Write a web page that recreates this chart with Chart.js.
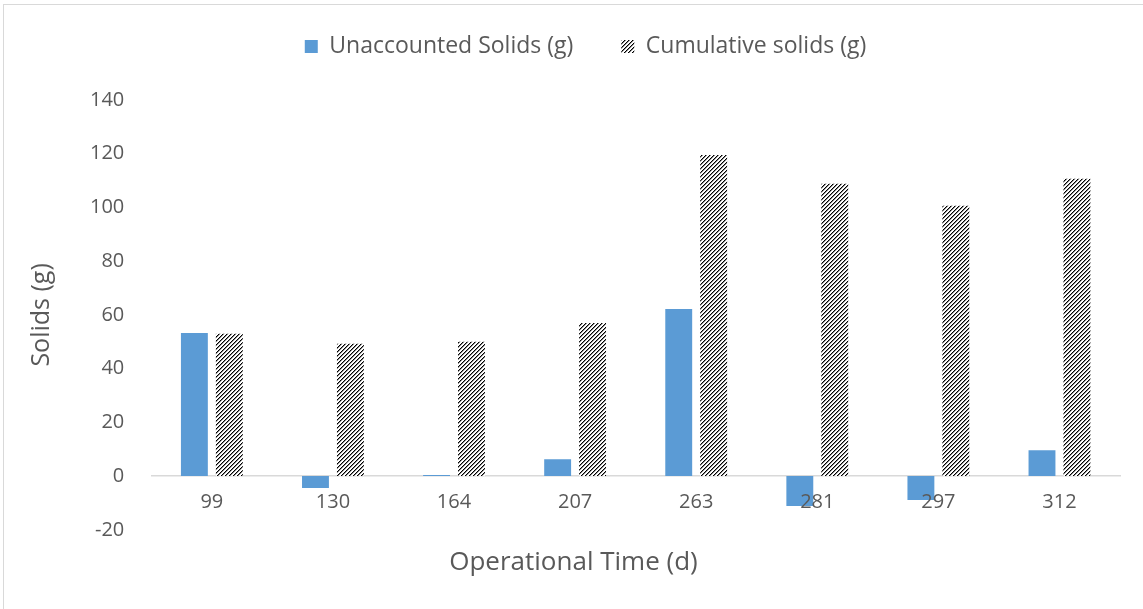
<!DOCTYPE html>
<html>
<head>
<meta charset="utf-8">
<script src="https://cdn.jsdelivr.net/npm/chart.js@4.4.1/dist/chart.umd.min.js"></script>
<style>
  html, body { margin: 0; padding: 0; background: #fff; }
  #wrap { position: relative; width: 1143px; height: 609px; overflow: hidden; }
  #frame { position: absolute; left: 3px; top: 4px; width: 1300px; height: 800px;
           border-left: 1.5px solid #d9d9d9; border-top: 1.5px solid #d9d9d9; pointer-events: none; }
</style>
</head>
<body>
<div id="wrap">
  <canvas id="chart" width="1143" height="609"></canvas>
  <div id="frame"></div>
</div>
<script>
// data
const days = ['99', '130', '164', '207', '263', '281', '297', '312'];
const unaccounted = [53.3, -4.4, 0.4, 6.3, 62.2, -11.1, -8.9, 9.6];
const cumulative = [53.0, 49.3, 50.0, 57.0, 119.5, 108.8, 100.6, 110.7];
const yMin = -20, yMax = 140, yStep = 20;

const textColor = '#595959';
const fontFam = '"Open Sans", Lato, sans-serif';

// hatch pattern (upward diagonal)
function makeHatch() {
  const c = document.createElement('canvas');
  c.width = 8; c.height = 8;
  const g = c.getContext('2d');
  g.fillStyle = '#fff';
  g.fillRect(0, 0, 8, 8);
  for (let x = 0; x < 8; x++) {
    for (let y = 0; y < 8; y++) {
      const k = (x + y) % 4;
      if (k === 0) { g.fillStyle = '#000'; g.fillRect(x, y, 1, 1); }
      else if (k === 1) { g.fillStyle = '#8a8a8a'; g.fillRect(x, y, 1, 1); }
    }
  }
  return g.createPattern(c, 'repeat');
}

// extra room under the legend, and nudge it like the original
const legendGap = {
  id: 'legendGap',
  beforeInit(chart) {
    const fit = chart.legend.fit;
    chart.legend.fit = function () {
      fit.bind(chart.legend)();
      this.height += 24;
    };
  },
  afterLayout(chart) {
    chart.legend.left += 12;
    chart.legend.right += 12;
    chart.legend.top -= 8;
    chart.legend.bottom -= 8;
  }
};

new Chart(document.getElementById('chart').getContext('2d'), {
  type: 'bar',
  data: {
    labels: days,
    datasets: [
      { label: 'Unaccounted Solids (g)', data: unaccounted, backgroundColor: '#5b9bd5',
        categoryPercentage: 0.577, barPercentage: 0.77 },
      { label: 'Cumulative solids (g)', data: cumulative, backgroundColor: makeHatch(),
        categoryPercentage: 0.577, barPercentage: 0.77 }
    ]
  },
  plugins: [legendGap],
  options: {
    responsive: false,
    animation: false,
    layout: { padding: { left: 27, right: 23, top: -5, bottom: 21 } },
    plugins: {
      legend: {
        position: 'top',
        labels: { color: textColor, font: { family: fontFam, size: 23 }, boxWidth: 13, boxHeight: 13, padding: 48 }
      },
      title: {
        display: true, position: 'bottom', text: 'Operational Time (d)',
        color: textColor, font: { family: fontFam, size: 26, weight: 'normal' },
        padding: { top: 17, bottom: 10 }
      },
      tooltip: { enabled: false }
    },
    scales: {
      x: {
        position: { y: 0 },
        grid: { display: false, drawTicks: false },
        border: { display: true, color: '#d9d9d9', width: 1.5 },
        ticks: { z: 1, color: textColor, font: { family: fontFam, size: 20 }, padding: 14 }
      },
      y: {
        min: yMin, max: yMax,
        grid: { display: false, drawTicks: false },
        border: { display: false },
        ticks: { stepSize: yStep, color: textColor, font: { family: fontFam, size: 20 }, padding: 27 },
        title: { display: true, text: 'Solids (g)', color: textColor, font: { family: fontFam, size: 25 }, padding: { top: 0, bottom: 6 } }
      }
    }
  }
});
</script>
</body>
</html>
